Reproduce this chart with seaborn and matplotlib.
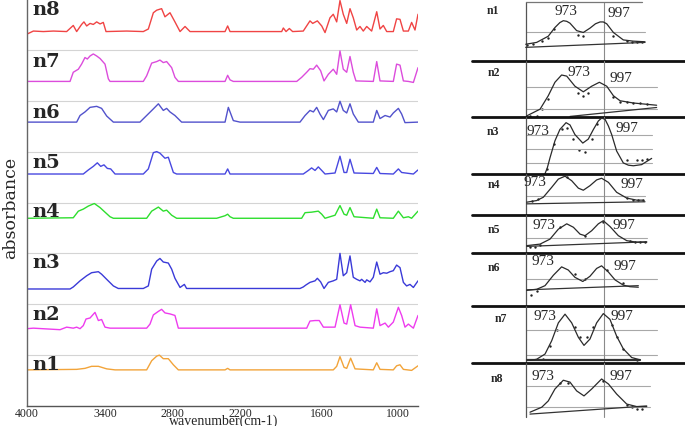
import numpy as np
import matplotlib
matplotlib.use("Agg")
import matplotlib.pyplot as plt
import seaborn as sns

sns.set_theme(style="white")
plt.rcParams["font.family"] = ["Liberation Serif", "DejaVu Serif"]

# ---------------- left panel: FTIR spectra (wavenumber, absorbance above own baseline) -------------
samples = ["n1", "n2", "n3", "n4", "n5", "n6", "n7", "n8"]
colors = ["#f2a43a", "#ee3cee", "#3a3ad8", "#2ede2e", "#4848e0", "#5252cc", "#dc4cdc", "#f04444"]
offsets = [0.71, 1.53, 2.31, 3.69, 4.56, 5.58, 6.38, 7.36]

wn_n1 = [4000, 3618, 3554, 3503, 3451, 3385, 3310, 3027, 2982, 2937, 2913, 2878, 2833, 2788, 2744, 2332, 2309,
         2288, 1511, 1484, 1458, 1426, 1405, 1374, 1339, 1195, 1168, 1142, 1037, 1011, 984, 957, 891, 840]
ab_n1 = [0, 0.01, 0.03, 0.07, 0.07, 0.02, 0, 0, 0.18, 0.27, 0.29, 0.22, 0.22, 0.10, 0, 0, 0.03,
         0, 0, 0.07, 0.26, 0.05, 0.03, 0.23, 0.02, 0, 0.14, 0.01, 0, 0.08, 0.10, 0.01, -0.01, 0.08]

wn_n2 = [4000, 3951, 3746, 3695, 3644, 3618, 3592, 3567, 3546, 3515, 3477, 3451, 3426, 3400, 3355, 3027, 2997,
         2967, 2922, 2893, 2863, 2818, 2774, 2744, 1712, 1688, 1651, 1620, 1589, 1497, 1458, 1426, 1405, 1374,
         1339, 1300, 1195, 1168, 1142, 1102, 1076, 1037, 997, 971, 944, 917, 877, 840]
ab_n2 = [-0.01, 0, -0.03, 0.02, 0, 0.02, -0.01, 0.05, 0.18, 0.20, 0.31, 0.15, 0.17, 0.02, 0, 0, 0.08,
         0.26, 0.33, 0.37, 0.30, 0.28, 0.25, 0, 0, 0.14, 0.15, 0.15, 0.02, 0.02, 0.46, 0.10, 0.08, 0.46,
         0.05, 0.02, 0, 0.38, 0.05, 0.10, 0.02, 0.12, 0.41, 0.25, 0.02, 0.08, 0, 0.25]

wn_n3 = [4000, 3669, 3644, 3592, 3541, 3503, 3451, 3426, 3385, 3325, 3281, 3057, 3012, 2982, 2937, 2908, 2878,
         2833, 2803, 2774, 2729, 2691, 2671, 1761, 1737, 1717, 1688, 1651, 1634, 1610, 1584, 1550, 1511, 1484,
         1458, 1432, 1405, 1379, 1353, 1326, 1300, 1287, 1260, 1247, 1221, 1195, 1168, 1142, 1116, 1089, 1063,
         1037, 1011, 984, 957, 931, 904, 877, 840]
ab_n3 = [-0.01, -0.01, 0.03, 0.15, 0.25, 0.31, 0.33, 0.28, 0.18, 0.05, 0, 0, 0.05, 0.38, 0.54, 0.59, 0.52,
         0.50, 0.38, 0.20, 0.02, 0.08, 0, 0, 0.03, 0.07, 0.12, 0.15, 0.20, 0.13, 0, 0.12, 0.15, 0.18,
         0.69, 0.25, 0.31, 0.64, 0.22, 0.18, 0.15, 0.18, 0.12, 0.17, 0.13, 0.22, 0.52, 0.28, 0.31, 0.30, 0.33,
         0.35, 0.46, 0.41, 0.12, 0.05, 0.08, 0.02, 0.15]

wn_n4 = [4000, 3644, 3605, 3567, 3528, 3482, 3438, 3400, 3355, 3325, 3027, 2982, 2922, 2878, 2848, 2803, 2759,
         2406, 2332, 2309, 2288, 2259, 1749, 1724, 1676, 1627, 1602, 1576, 1537, 1497, 1458, 1426, 1405, 1379,
         1347, 1195, 1168, 1142, 1037, 997, 957, 917, 891, 840]
ab_n4 = [0, 0.01, 0.14, 0.18, 0.24, 0.29, 0.21, 0.12, 0.03, 0, 0, 0.14, 0.22, 0.14, 0.16, 0.06, 0,
         0, 0.05, 0.08, 0.03, 0, 0, 0.11, 0.12, 0.14, 0.08, 0, 0.03, 0.06, 0.25, 0.08, 0.06, 0.21,
         0.03, 0, 0.18, 0.01, 0, 0.14, 0.01, 0.03, 0, 0.14]

wn_n5 = [4000, 3567, 3528, 3490, 3459, 3433, 3408, 3379, 3349, 3310, 3057, 3012, 2967, 2937, 2908, 2863, 2833,
         2788, 2759, 2332, 2309, 2288, 1737, 1700, 1676, 1651, 1627, 1602, 1576, 1497, 1458, 1426, 1405, 1379,
         1347, 1195, 1168, 1142, 1037, 997, 971, 877, 840]
ab_n5 = [0, 0, 0.08, 0.15, 0.22, 0.15, 0.18, 0.11, 0.10, 0, 0, 0.10, 0.42, 0.44, 0.41, 0.31, 0.33,
         0.03, 0, 0, 0.10, 0, 0, 0.07, 0.12, 0.07, 0.14, 0.07, 0, 0.02, 0.35, 0.03, 0.03, 0.29,
         0.02, 0.01, 0.13, 0.01, 0, 0.10, 0.03, 0, 0.08]

wn_n6 = [4000, 3618, 3592, 3554, 3515, 3464, 3426, 3385, 3325, 3087, 3027, 2967, 2922, 2878, 2848, 2818, 2774,
         2715, 2332, 2303, 2259, 2200, 1761, 1724, 1688, 1663, 1639, 1615, 1589, 1550, 1511, 1484, 1458, 1432,
         1405, 1379, 1353, 1313, 1195, 1168, 1142, 1102, 1063, 1037, 997, 971, 944, 840]
ab_n6 = [0, 0, 0.13, 0.20, 0.29, 0.31, 0.27, 0.12, 0, 0, 0.13, 0.26, 0.36, 0.23, 0.27, 0.20, 0.13,
         0, 0, 0.29, 0.03, 0, 0, 0.13, 0.23, 0.20, 0.29, 0.16, 0.05, 0.23, 0.26, 0.20, 0.41, 0.23,
         0.18, 0.36, 0.16, 0, 0, 0.23, 0.07, 0.13, 0.10, 0.18, 0.27, 0.16, -0.01, 0]

wn_n7 = [4000, 3669, 3644, 3605, 3580, 3554, 3536, 3515, 3490, 3464, 3438, 3400, 3370, 3355, 3057, 3027, 2982,
         2937, 2908, 2878, 2848, 2803, 2774, 2744, 2332, 2309, 2288, 2259, 1785, 1749, 1712, 1688, 1663, 1639,
         1610, 1584, 1550, 1511, 1484, 1458, 1432, 1405, 1379, 1353, 1332, 1195, 1168, 1142, 1037, 1011, 984,
         957, 917, 877, 840]
ab_n7 = [0, 0, 0.18, 0.24, 0.34, 0.47, 0.44, 0.50, 0.54, 0.50, 0.45, 0.34, 0.05, 0, 0, 0.11, 0.36,
         0.39, 0.42, 0.37, 0.39, 0.27, 0.08, 0, 0, 0.12, 0.03, 0, 0, 0.08, 0.18, 0.25, 0.24, 0.32,
         0.21, 0.01, 0.14, 0.24, 0.14, 0.60, 0.24, 0.18, 0.49, 0.18, 0.01, 0, 0.39, 0.01, 0, 0.34, 0.32,
         0.01, 0, -0.02, 0.27]

wn_n8 = [4000, 3951, 3874, 3797, 3695, 3644, 3618, 3580, 3562, 3541, 3515, 3490, 3464, 3438, 3413, 3391, 3206,
         3057, 3012, 2967, 2937, 2908, 2893, 2863, 2818, 2774, 2729, 2685, 2641, 2332, 2309, 2288, 1895, 1883,
         1863, 1839, 1815, 1737, 1688, 1668, 1634, 1602, 1576, 1537, 1511, 1484, 1458, 1432, 1405, 1379, 1353,
         1326, 1300, 1274, 1247, 1208, 1168, 1142, 1116, 1089, 1037, 1011, 984, 957, 917, 891, 864, 840]
ab_n8 = [-0.05, 0.01, 0, 0.01, 0, 0.12, 0, 0.14, 0.19, 0.11, 0.16, 0.14, 0.19, 0.15, 0.18, 0, 0.01,
         0, 0.05, 0.37, 0.42, 0.44, 0.45, 0.29, 0.37, 0.19, 0, 0.10, 0, 0, 0.11, 0, 0, 0.07,
         0, 0.06, 0, 0.01, 0.21, 0.16, 0.21, 0.11, -0.02, 0.27, 0.34, 0.19, 0.61, 0.34, 0.16, 0.45, 0.27,
         0.03, 0.10, 0.01, 0.10, 0.01, 0.39, 0.05, 0.12, 0, 0, 0.25, 0.24, 0.01, 0.01, 0.18, 0.03, 0.34]

spec_wn = [wn_n1, wn_n2, wn_n3, wn_n4, wn_n5, wn_n6, wn_n7, wn_n8]
spec_ab = [ab_n1, ab_n2, ab_n3, ab_n4, ab_n5, ab_n6, ab_n7, ab_n8]

xticks = [4000, 3400, 2800, 2200, 1600, 1000]
xtick_labels = ["4000", "3400", "2800", "2200", "1600", "1000"]

# ---------------- right panel: 973/997 band fits ----------------
peak_labels = ["973", "997"]

fit_x_n1 = [951.2, 957.6, 964.4, 968.3, 971.2, 973.2, 975.2, 977.1, 981.0, 984.9, 988.8, 992.0, 994.7, 996.6,
            998.6, 1002.5, 1008.3, 1014.2, 1021.0]
fit_y_n1 = [0.27, 0.30, 0.40, 0.54, 0.62, 0.65, 0.64, 0.61, 0.49, 0.46, 0.53, 0.60, 0.63, 0.63,
            0.60, 0.46, 0.34, 0.32, 0.31]
dot_x_n1 = [951.8, 955.7, 960.6, 964.4, 968.0, 982.0, 984.9, 1002.5, 1010.3, 1013.2, 1016.1, 1019.0]
dot_y_n1 = [0.26, 0.28, 0.32, 0.37, 0.52, 0.42, 0.40, 0.41, 0.33, 0.31, 0.31, 0.31]
base_x_n1, base_y_n1 = [951.2, 1021.0], [0.22, 0.30]

fit_x_n2 = [951.8, 959.6, 964.4, 968.3, 972.2, 975.2, 980.0, 984.9, 989.8, 994.3, 998.6, 1002.5, 1006.4,
            1014.2, 1027.8]
fit_y_n2 = [0.02, 0.14, 0.38, 0.62, 0.75, 0.73, 0.55, 0.45, 0.55, 0.62, 0.55, 0.38, 0.29, 0.25, 0.21]
dot_x_n2 = [953.7, 957.6, 960.6, 964.4, 982.0, 984.9, 987.8, 1002.5, 1006.4, 1010.3, 1014.2, 1018.1, 1022.0]
dot_y_n2 = [0.02, 0.02, 0.14, 0.32, 0.42, 0.37, 0.43, 0.35, 0.27, 0.26, 0.25, 0.25, 0.24]
base_x_n2, base_y_n2 = [977.1, 1027.8], [0.01, 0.17]

fit_x_n3 = [961.5, 962.5, 963.9, 965.4, 968.3, 971.2, 974.8, 977.1, 980.0, 984.6, 987.8, 990.8, 993.7, 995.6,
            997.6, 999.6, 1001.5, 1004.4, 1008.3, 1011.3, 1014.2, 1019.0, 1024.9]
fit_y_n3 = [-0.08, 0.0, 0.11, 0.28, 0.58, 0.78, 0.90, 0.86, 0.69, 0.54, 0.61, 0.78, 0.93, 0.98,
            0.96, 0.84, 0.69, 0.40, 0.19, 0.15, 0.14, 0.16, 0.27]
dot_x_n3 = [963.9, 967.9, 972.2, 975.2, 979.1, 982.6, 985.9, 989.8, 993.1, 1010.3, 1016.1, 1019.0, 1022.0]
dot_y_n3 = [0.09, 0.52, 0.78, 0.81, 0.62, 0.41, 0.38, 0.61, 0.87, 0.25, 0.24, 0.25, 0.26]
base_x_n3, base_y_n3 = [], []

fit_x_n4 = [951.8, 957.6, 961.5, 966.4, 970.3, 974.2, 978.1, 982.0, 984.9, 988.8, 992.7, 995.6, 999.6,
            1004.4, 1010.3, 1016.1, 1020.0]
fit_y_n4 = [0.31, 0.35, 0.43, 0.67, 0.87, 0.94, 0.83, 0.65, 0.60, 0.71, 0.85, 0.89, 0.79, 0.55, 0.41, 0.36, 0.36]
dot_x_n4 = [954.7, 958.6, 975.2, 1010.3, 1014.2, 1017.1, 1019.6]
dot_y_n4 = [0.35, 0.39, 0.91, 0.40, 0.37, 0.37, 0.37]
base_x_n4, base_y_n4 = [951.8, 1021.0], [0.27, 0.32]

fit_x_n5 = [951.8, 959.6, 965.4, 970.3, 975.2, 979.1, 983.0, 985.9, 989.8, 993.7, 996.6, 1000.5, 1005.4,
            1010.3, 1016.1, 1022.0]
fit_y_n5 = [0.20, 0.24, 0.37, 0.63, 0.77, 0.68, 0.50, 0.46, 0.59, 0.77, 0.85, 0.70, 0.46, 0.33, 0.29, 0.29]
dot_x_n5 = [953.7, 956.6, 959.6, 971.2, 985.9, 996.6, 1012.2, 1015.1, 1018.1, 1021.0]
dot_y_n5 = [0.16, 0.17, 0.22, 0.68, 0.44, 0.83, 0.33, 0.30, 0.30, 0.30]
base_x_n5, base_y_n5 = [951.8, 1022.0], [0.18, 0.30]

fit_x_n6 = [951.8, 957.6, 962.5, 967.4, 972.2, 976.1, 980.0, 984.6, 988.8, 992.7, 995.6, 999.6, 1003.5,
            1008.3, 1012.2, 1017.1]
fit_y_n6 = [0.29, 0.31, 0.38, 0.58, 0.74, 0.68, 0.54, 0.46, 0.56, 0.71, 0.76, 0.64, 0.49, 0.39, 0.36, 0.35]
dot_x_n6 = [954.1, 958.0, 980.0, 986.0, 998.6, 1008.3]
dot_y_n6 = [0.21, 0.27, 0.60, 0.50, 0.68, 0.44]
base_x_n6, base_y_n6 = [951.8, 1017.1], [0.30, 0.38]

fit_x_n7 = [953.7, 957.6, 962.5, 966.4, 970.3, 974.2, 978.1, 982.0, 985.3, 988.8, 992.7, 996.6, 1000.5,
            1004.4, 1008.3, 1013.2, 1018.1]
fit_y_n7 = [0.05, 0.07, 0.16, 0.39, 0.70, 0.85, 0.70, 0.45, 0.31, 0.42, 0.70, 0.86, 0.76, 0.47, 0.25, 0.10, 0.06]
dot_x_n7 = [961.5, 965.4, 969.3, 980.0, 983.0, 986.9, 990.8, 1001.5, 1004.4, 1008.3, 1016.1]
dot_y_n7 = [0.07, 0.30, 0.58, 0.62, 0.45, 0.45, 0.62, 0.67, 0.46, 0.25, 0.06]
base_x_n7, base_y_n7 = [951.8, 1018.1], [0.06, 0.06]

fit_x_n8 = [953.7, 960.6, 964.4, 968.3, 973.2, 977.1, 981.0, 985.3, 989.8, 995.6, 999.6, 1004.4, 1010.3,
            1016.1, 1022.0]
fit_y_n8 = [0.22, 0.30, 0.40, 0.59, 0.73, 0.70, 0.56, 0.48, 0.59, 0.75, 0.67, 0.51, 0.35, 0.31, 0.31]
dot_x_n8 = [971.2, 976.1, 996.6, 1010.3, 1013.2, 1016.1, 1019.0]
dot_y_n8 = [0.69, 0.69, 0.72, 0.34, 0.30, 0.27, 0.27]
base_x_n8, base_y_n8 = [953.7, 1022.0], [0.19, 0.32]

fit_x = [fit_x_n1, fit_x_n2, fit_x_n3, fit_x_n4, fit_x_n5, fit_x_n6, fit_x_n7, fit_x_n8]
fit_y = [fit_y_n1, fit_y_n2, fit_y_n3, fit_y_n4, fit_y_n5, fit_y_n6, fit_y_n7, fit_y_n8]
dot_x = [dot_x_n1, dot_x_n2, dot_x_n3, dot_x_n4, dot_x_n5, dot_x_n6, dot_x_n7, dot_x_n8]
dot_y = [dot_y_n1, dot_y_n2, dot_y_n3, dot_y_n4, dot_y_n5, dot_y_n6, dot_y_n7, dot_y_n8]
base_x = [base_x_n1, base_x_n2, base_x_n3, base_x_n4, base_x_n5, base_x_n6, base_x_n7, base_x_n8]
base_y = [base_y_n1, base_y_n2, base_y_n3, base_y_n4, base_y_n5, base_y_n6, base_y_n7, base_y_n8]

# ---------------- layout (pixels of a 685x427 canvas) ----------------
W, H = 685, 427
fig = plt.figure(figsize=(6.85, 4.27), dpi=100)
fig.patch.set_facecolor("white")

ax = fig.add_axes([27 / W, 1 - 407 / H, 391 / W, 407 / H])
for s, wn, ab, c, off in zip(samples, spec_wn, spec_ab, colors, offsets):
    sns.lineplot(x=wn, y=np.asarray(ab) + off, ax=ax, color=c, lw=1.0, estimator=None, sort=False)

scale_wn = [840, 1000, 1600, 2200, 2800, 3400, 4000]
scale_pos = [0, 20, 96, 178, 246, 313, 391]
ax.set_xscale("function", functions=(lambda w: np.interp(w, scale_wn, scale_pos),
                                     lambda p: np.interp(p, scale_pos, scale_wn)))
ax.set_xlim(4000, 840)
ax.set_ylim(0, 8)
ax.set_xticks(xticks)
ax.set_xticklabels(xtick_labels, fontsize=8.5)
ax.tick_params(axis="x", length=0, pad=0.5)
ax.set_yticks(range(1, 8))
ax.set_yticklabels([])
ax.set_yticks(np.arange(0.5, 8, 1.0), minor=True)
ax.tick_params(axis="y", which="both", length=2, color="#bbbbbb", direction="out")
ax.yaxis.grid(True, color="#d4d4d4", lw=0.8)
ax.xaxis.grid(False)
for sp in ["top", "right"]:
    ax.spines[sp].set_visible(False)
ax.spines["left"].set_color("#666666")
ax.spines["bottom"].set_color("#555555")
ax.spines["left"].set_linewidth(1.0)
ax.spines["bottom"].set_linewidth(1.0)
ax.set_xlabel("")
ax.set_ylabel("")
fig.text(10.5 / W, 1 - 208 / H, "absorbance", fontsize=12.5, family=["DejaVu Serif"], rotation=90,
         ha="center", va="center")
fig.text(224 / W, 1 - 424.5 / H, "wavenumber(cm-1)", fontsize=10, ha="center", va="baseline")

label_base = [0.73, 1.71, 2.73, 3.73, 4.70, 5.68, 6.68, 7.70]
for s, yb in zip(samples, label_base):
    ax.text(3962, yb, s, fontsize=14, fontweight="bold", family=["DejaVu Serif"], va="baseline", ha="left")

# right-hand panels
panel_px = [(0, 62), (62, 118), (118, 174.7), (174.7, 216), (216, 254.3), (254.3, 306.5), (306.5, 364.3),
            (364.3, 427)]
panel_grid = [[0.46], [0.53, 0.15], [0.69, 0.43, 0.18], [0.47], [0.39], [0.50], [0.57, 0.14], [0.64, 0.31]]
panel_grid_end = [1021, 1027.8, 1024.9, 1021, 1022, 1027.8, 1027.8, 1024]
panel_box = [(0, 0.95), (0, 1), (0, 1), (0, 1), (0, 1), (0, 1), (0, 1), (0.14, 1)]
txt973 = [(974.8, 0.81), (982.4, 0.82), (958.4, 0.77), (956.4, 0.81), (962.0, 0.74), (961.3, 0.87),
          (962.5, 0.83), (961.3, 0.80)]
txt997 = [(1005.8, 0.79), (1007.0, 0.71), (1010.4, 0.81), (1013.4, 0.77), (1008.7, 0.74), (1009.3, 0.77),
          (1007.5, 0.83), (1007.0, 0.80)]
txtn = [(932.0, 0.82), (932.7, 0.80), (932.0, 0.75), (932.7, 0.75), (932.7, 0.63), (932.7, 0.74),
        (936.8, 0.78), (934.4, 0.77)]
XL, XR = 918.6, 1044.4

for i, s in enumerate(samples):
    top, bot = panel_px[i]
    a = fig.add_axes([470 / W, 1 - bot / H, 215 / W, (bot - top) / H])
    a.set_xlim(XL, XR)
    a.set_ylim(0, 1)
    a.axis("off")
    for gy in panel_grid[i]:
        a.plot([951.5, panel_grid_end[i]], [gy, gy], color="#a8a8a8", lw=0.8)
    b0, b1 = panel_box[i]
    a.plot([951.5, 951.5], [b0, b1], color="#555555", lw=0.9)
    a.plot([997, 997], [b0, b1], color="#8a8a8a", lw=0.8)
    if i == 0:
        a.plot([951.5, 1019.3], [0.95, 0.95], color="#777777", lw=0.9)
    if base_x[i]:
        a.plot(base_x[i], base_y[i], color="#333333", lw=1.6 if i == 6 else 0.9)
    sns.lineplot(x=fit_x[i], y=fit_y[i], ax=a, color="#2a2a2a", lw=0.9, estimator=None, sort=False)
    sns.scatterplot(x=dot_x[i], y=dot_y[i], ax=a, color="#222222", s=3, linewidth=0)
    if i < 7:
        a.axhline(0, xmin=(919.8 - XL) / (XR - XL), xmax=1, color="#111111", lw=2.0, clip_on=False)
    a.text(*txt973[i], peak_labels[0], fontsize=11, ha="center", va="center")
    a.text(*txt997[i], peak_labels[1], fontsize=11, ha="center", va="center")
    a.text(*txtn[i], s, fontsize=8.5, fontweight="bold", ha="center", va="center")

fig.savefig("out.png", dpi=100, facecolor="white")
